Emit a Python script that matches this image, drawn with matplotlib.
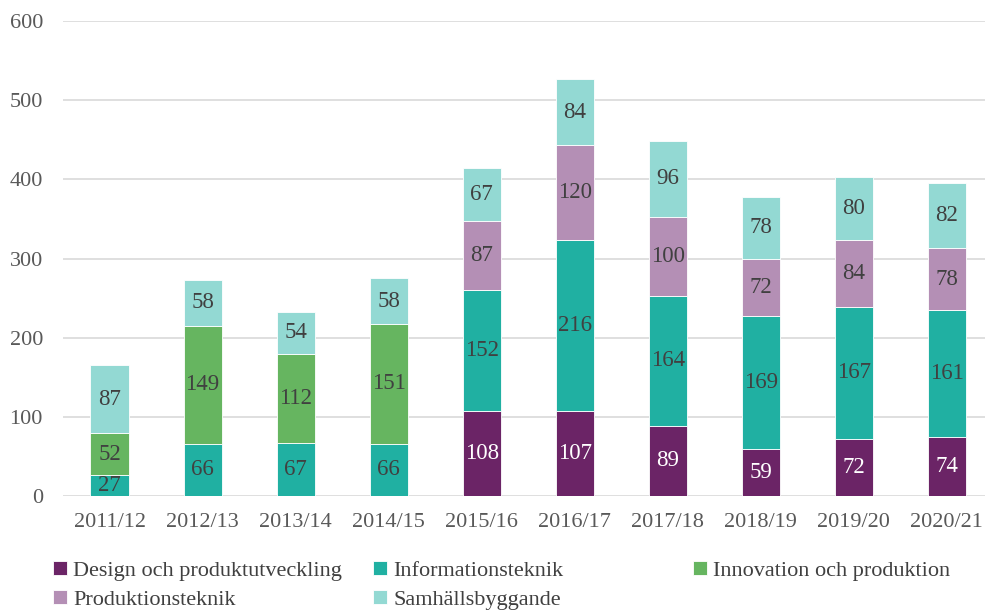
import matplotlib

matplotlib.use("Agg")

import matplotlib.pyplot as plt
import numpy as np

years = ["2011/12", "2012/13", "2013/14", "2014/15", "2015/16",
         "2016/17", "2017/18", "2018/19", "2019/20", "2020/21"]
series_names = ["Design och produktutveckling", "Informationsteknik",
                "Innovation och produktion", "Produktionsteknik", "Samhällsbyggande"]
design = [0, 0, 0, 0, 108, 107, 89, 59, 72, 74]
info = [27, 66, 67, 66, 152, 216, 164, 169, 167, 161]
innovation = [52, 149, 112, 151, 0, 0, 0, 0, 0, 0]
produktion = [0, 0, 0, 0, 87, 120, 100, 72, 84, 78]
samhall = [87, 58, 54, 58, 67, 84, 96, 78, 80, 82]

colors = ["#6b2466", "#20b0a2", "#66b560", "#b48fb5", "#93d9d3"]
label_colors = ["white", "#404040", "#404040", "#404040", "#404040"]

plt.rcParams["font.family"] = ["Liberation Serif", "DejaVu Serif"]

fig = plt.figure(figsize=(9.85, 6.12), dpi=100)
ax = fig.add_axes([0.064, 0.1895, 0.936, 0.7762])

x = np.arange(len(years))
bottom = np.zeros(len(years))
handles = []
for values, name, color, lcolor in zip(
    [design, info, innovation, produktion, samhall], series_names, colors, label_colors
):
    values = np.array(values, dtype=float)
    bars = ax.bar(x, values, 0.41, bottom=bottom, color=color,
                  edgecolor="white", linewidth=0.6, label=name, zorder=3)
    handles.append(bars)
    for xi, v, b in zip(x, values, bottom):
        if v > 0:
            ax.text(xi, b + v / 2, f"{int(v)}", ha="center", va="center",
                    fontsize=16.5, color=lcolor, zorder=4)
    bottom += values

ax.set_ylim(0, 600)
ax.set_xlim(-0.5, 9.41)
ax.set_yticks(range(0, 601, 100))
ax.set_xticks(x)
ax.set_xticklabels(years)
ax.grid(axis="y", color="#d9d9d9", linewidth=1.2, zorder=0)
for spine in ax.spines.values():
    spine.set_visible(False)
ax.tick_params(axis="both", length=0, labelsize=16, colors="#595959")
ax.tick_params(axis="y", pad=14.5)
ax.tick_params(axis="x", pad=12)

columns = [[0, 3], [1, 4], [2]]
col_x = [0.054, 0.379, 0.704]
for idx, cx in zip(columns, col_x):
    fig.legend([handles[i] for i in idx], [series_names[i] for i in idx],
               loc="upper left", bbox_to_anchor=(cx, 0.083), frameon=False,
               fontsize=16, handlelength=0.6, handleheight=0.6,
               handletextpad=0.3, labelspacing=0.4, borderaxespad=0,
               borderpad=0, labelcolor="#404040")

fig.savefig("out.png", dpi=100)
